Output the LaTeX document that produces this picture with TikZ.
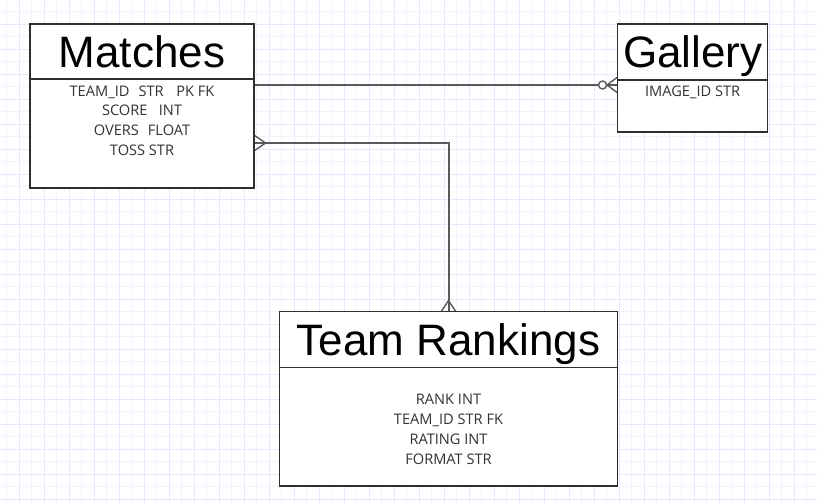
\documentclass[tikz,border=0pt]{standalone}
\usepackage{fontspec}
\setmainfont{Liberation Sans}
\newfontfamily\attrfont{Open Sans}
\usetikzlibrary{calc}
\definecolor{gridminor}{HTML}{F4F2FF}
\definecolor{gridmajor}{HTML}{EAE6FE}
\definecolor{boxline}{HTML}{2E2E2E}
\definecolor{connline}{HTML}{5A5A5A}
\definecolor{attrtext}{HTML}{333333}
\tikzset{
  entity/.style={draw=boxline, line width=1.3pt, fill=white, rectangle, inner sep=0pt},
  divider/.style={draw=boxline, line width=1.3pt},
  title/.style={font=\fontsize{44}{44}\selectfont, anchor=base, inner sep=0pt},
  attr/.style={font=\attrfont\fontsize{14.6}{19.8}\selectfont, text=attrtext, anchor=base, inner sep=0pt, align=center},
  conn/.style={draw=connline, line width=2pt},
  foot/.style={draw=connline, line width=1.4pt},
}
\begin{document}
\begin{tikzpicture}[x=1pt,y=-1pt]
\useasboundingbox (0,0) rectangle (817,503);
\fill[white] (0,0) rectangle (817,503);
% grid
\foreach \x in {6.8,31.8,...,817} \draw[gridminor, line width=0.8pt] (\x,0) -- (\x,503);
\foreach \y in {11.8,36.8,...,503} \draw[gridminor, line width=0.8pt] (0,\y) -- (817,\y);
\foreach \x in {19.3,44.3,...,817} \draw[gridmajor, line width=0.8pt] (\x,0) -- (\x,503);
\foreach \y in {-0.7,24.3,...,503} \draw[gridmajor, line width=0.8pt] (0,\y) -- (817,\y);

% entities
\node[entity, minimum width=224pt, minimum height=164pt] (matches) at (142,106) {};
\draw[divider] (matches.west |- 0,79) -- (matches.east |- 0,79);
\node[title] (matchestitle) at (142,67) {Matches};
\node[attr] (matchesattr) at (142,155.5) {TEAM\_ID\hspace{9pt}STR\hspace{12.7pt}PK FK\\SCORE\hspace{11.3pt}INT\\OVERS\hspace{9pt}FLOAT\\TOSS STR};

\node[entity, minimum width=150pt, minimum height=108pt] (gallery) at (692.7,78) {};
\draw[divider] (gallery.west |- 0,80) -- (gallery.east |- 0,80);
\node[title] (gallerytitle) at (692.7,67) {Gallery};
\node[attr] (galleryattr) at (692.7,96.7) {IMAGE\_ID STR};

\node[entity, minimum width=338.4pt, minimum height=174.3pt] (ranks) at (448.5,398.85) {};
\draw[divider] (ranks.west |- 0,367.7) -- (ranks.east |- 0,367.7);
\node[title] (rankstitle) at (448.5,355) {Team Rankings};
\node[attr] (ranksattr) at (448.5,464) {RANK INT\\TEAM\_ID STR FK\\RATING INT\\FORMAT STR};

% connector Matches -- Gallery (one to zero-or-many)
\coordinate (gA) at ($(gallery.west)+(0,7)$);
\draw[conn] ($(matches.east)+(0,-21)$) -- (gA);
\draw[foot] ($(gA)+(-10,0)$) -- ($(gA)+(0,-7.5)$);
\draw[foot] ($(gA)+(-10,0)$) -- ($(gA)+(0,7.5)$);
\draw[foot, fill=white] ($(gA)+(-14.5,0)$) circle (4pt);

% connector Matches -- Team Rankings (many to many)
\coordinate (mB) at ($(matches.east)+(0,37)$);
\draw[conn] (mB) -| (ranks.north);
\draw[foot] ($(mB)+(11,0)$) -- ($(mB)+(0,-7.5)$);
\draw[foot] ($(mB)+(11,0)$) -- ($(mB)+(0,7.5)$);
\draw[foot] ($(ranks.north)+(0,-10.5)$) -- ($(ranks.north)+(-7,0)$);
\draw[foot] ($(ranks.north)+(0,-10.5)$) -- ($(ranks.north)+(7,0)$);
\end{tikzpicture}
\end{document}
